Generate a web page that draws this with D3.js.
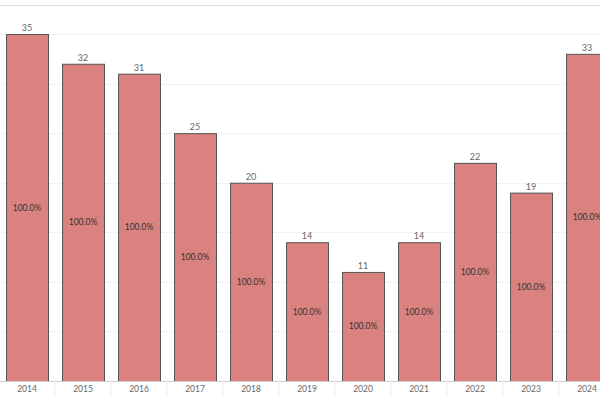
<!DOCTYPE html><html><head><script src="https://cdn.jsdelivr.net/npm/d3@7"></script>
<style>body{margin:0;background:#fff}</style></head><body><svg width="600" height="400"></svg><script>
const years=["2014","2015","2016","2017","2018","2019","2020","2021","2022","2023","2024"];
const counts=[35,32,31,25,20,14,11,14,22,19,33];
const pctLabels=["100.0%","100.0%","100.0%","100.0%","100.0%","100.0%","100.0%","100.0%","100.0%","100.0%","100.0%"];
const yTicks=[5,10,15,20,25,30,35];
const svg=d3.select("svg");
const x=d3.scaleBand().domain(years).range([-1,615]).paddingInner(0.25).paddingOuter(0.125);
const y=d3.scaleLinear().domain([0,35]).range([381,34]);
svg.append("line").attr("x1",0).attr("x2",600).attr("y1",5.5).attr("y2",5.5).attr("stroke","#ddd");
svg.selectAll(".g").data(yTicks).join("line").attr("x1",0).attr("x2",600)
 .attr("y1",d=>Math.round(y(d))+.5).attr("y2",d=>Math.round(y(d))+.5).attr("stroke","#f2f2f2");
svg.selectAll(".b").data(years).join("rect").attr("x",d=>x(d)+.5).attr("width",x.bandwidth())
 .attr("y",(d,i)=>y(counts[i])+.5).attr("height",(d,i)=>y(0)-y(counts[i]))
 .attr("fill","#d9827f").attr("stroke","#555").attr("stroke-width",1);
svg.append("line").attr("x1",0).attr("x2",600).attr("y1",381.5).attr("y2",381.5).attr("stroke","#ccc");
svg.selectAll(".sep").data(years).join("line").attr("x1",d=>x(d)-x.step()*0.125).attr("x2",d=>x(d)-x.step()*0.125)
 .attr("y1",381).attr("y2",395).attr("stroke","#eee");
const f="Lato, 'Open Sans', sans-serif";
svg.selectAll(".v").data(years).join("text").attr("x",d=>x(d)+x.bandwidth()/2).attr("y",(d,i)=>y(counts[i])-3)
 .attr("text-anchor","middle").attr("font-family",f).attr("font-size",9).attr("fill","#666").text((d,i)=>counts[i]);
svg.selectAll(".p").data(years).join("text").attr("x",d=>x(d)+x.bandwidth()/2).attr("y",(d,i)=>(y(counts[i])+y(0))/2+3)
 .attr("text-anchor","middle").attr("font-family",f).attr("font-size",8.5).attr("fill","#333").text((d,i)=>pctLabels[i]);
svg.selectAll(".xl").data(years).join("text").attr("x",d=>x(d)+x.bandwidth()/2).attr("y",392)
 .attr("text-anchor","middle").attr("font-family",f).attr("font-size",8.5).attr("fill","#666").text(d=>d);
</script></body></html>
